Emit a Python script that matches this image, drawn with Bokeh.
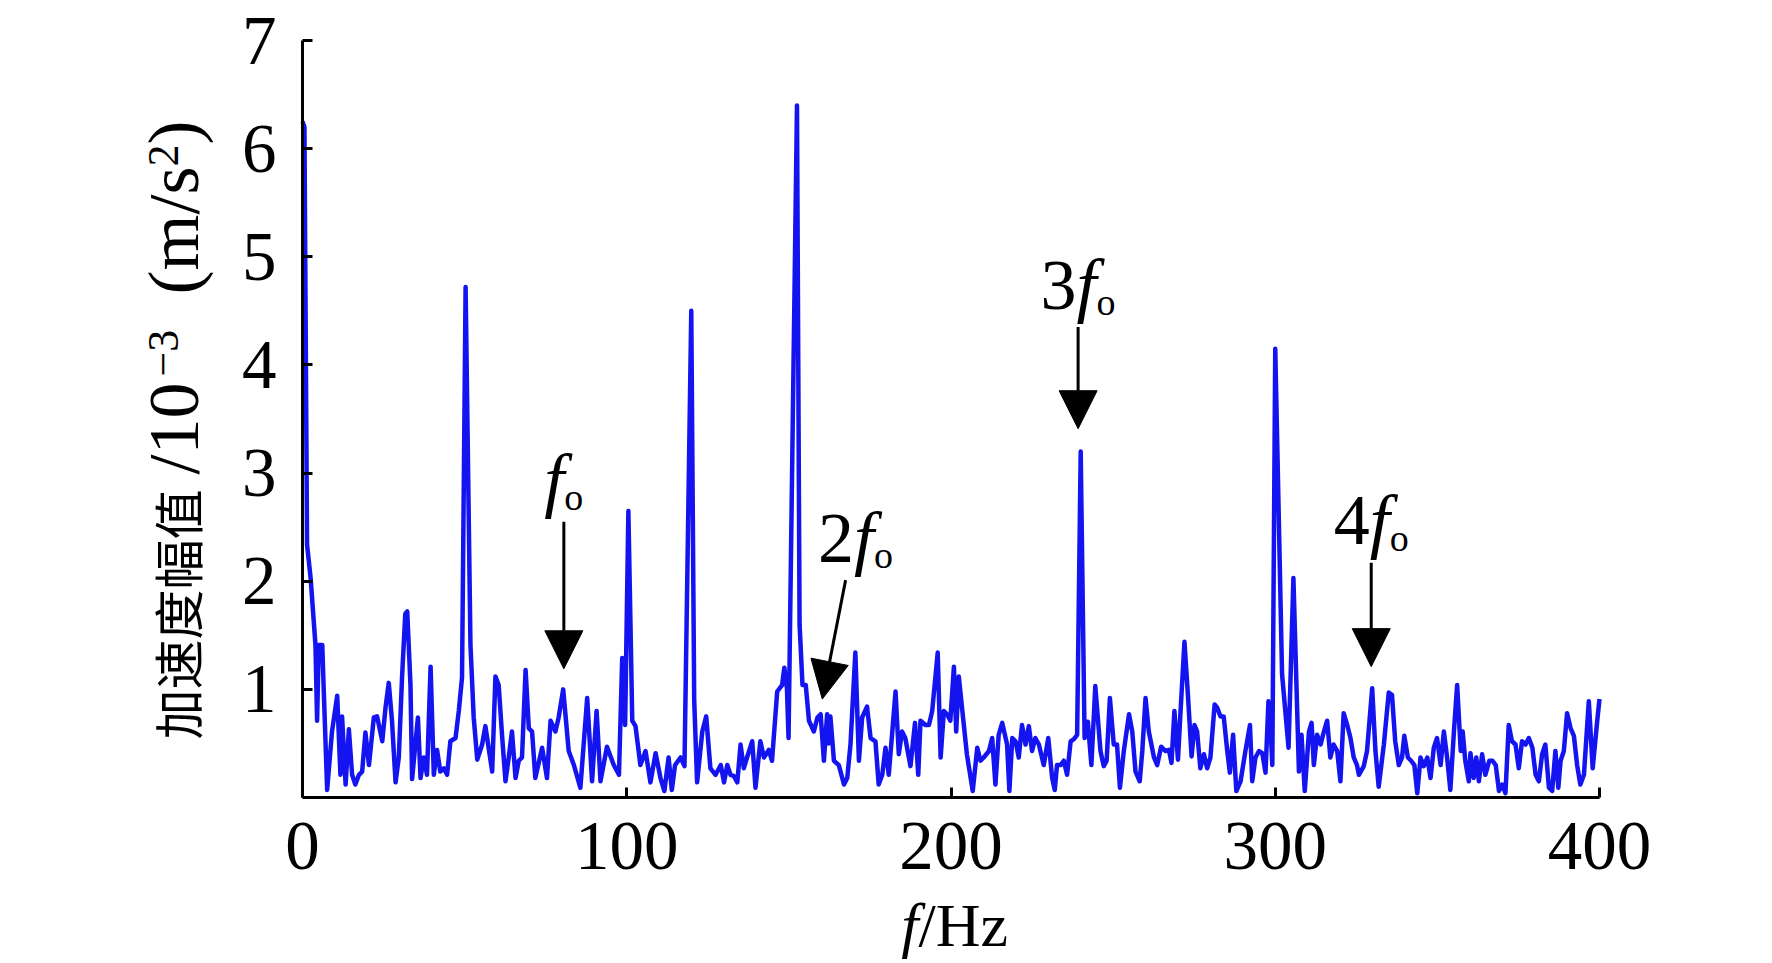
import math
from bokeh.plotting import figure
from bokeh.models import Range1d, FixedTicker, Arrow, NormalHead, Label
from bokeh.embed import file_html
from bokeh.resources import INLINE

# ---- data ----
freq = [0.0, 0.6, 1.4, 2.5, 4.0, 4.5, 5.0, 6.1, 6.6, 7.6, 9.1, 10.7, 11.7, 12.2, 13.3, 14.3, 15.3, 16.3, 17.4, 18.4,
        19.4, 20.5, 22.0, 23.0, 24.6, 25.6, 26.6, 27.6, 28.7, 29.7, 30.7, 31.7, 32.3, 33.3, 33.8, 34.8, 35.6, 36.4, 37.4, 38.4,
        39.5, 40.5, 41.5, 42.5, 43.6, 44.6, 45.6, 47.2, 48.2, 49.2, 50.3, 51.8, 52.8, 53.9, 55.4, 56.4, 58.5, 59.5, 60.5, 61.6,
        62.6, 63.6, 64.6, 65.7, 66.7, 67.7, 68.8, 69.8, 70.8, 71.8, 73.9, 75.4, 76.5, 78.0, 79.0, 80.4, 82.1, 83.7, 85.7, 87.8,
        89.3, 90.7, 91.9, 93.9, 96.0, 97.6, 98.6, 99.5, 100.5, 101.7, 102.7, 104.2, 105.8, 107.3, 108.9, 110.4, 111.6, 112.9, 113.9, 114.9,
        116.6, 117.8, 119.9, 120.8, 121.7, 123.3, 124.5, 125.8, 127.4, 129.0, 130.0, 131.0, 132.0, 133.0, 134.1, 135.1, 136.1, 137.1, 138.7, 139.7,
        141.2, 142.3, 143.8, 144.8, 146.4, 147.9, 148.6, 149.4, 149.9, 152.5, 153.3, 154.2, 155.2, 156.2, 157.7, 158.8, 159.8, 160.8, 161.8, 162.3,
        162.8, 163.9, 165.4, 167.0, 168.0, 169.0, 170.5, 171.6, 172.6, 174.1, 175.2, 176.7, 177.7, 178.8, 179.8, 180.8, 181.9, 182.9, 183.9, 184.9,
        185.9, 187.5, 188.9, 189.9, 190.6, 192.1, 193.2, 194.2, 195.9, 196.8, 197.8, 198.8, 199.8, 200.9, 201.6, 202.4, 203.4, 204.9, 206.7, 208.1,
        209.1, 210.1, 211.7, 212.7, 213.7, 214.7, 215.8, 217.3, 218.0, 218.9, 219.9, 220.9, 221.9, 223.0, 224.0, 225.0, 226.0, 227.1, 228.6, 230.0,
        231.2, 232.0, 232.7, 233.8, 234.8, 235.8, 236.9, 237.9, 238.9, 240.0, 241.2, 242.2, 243.3, 244.5, 246.1, 247.1, 248.0, 249.0, 250.2, 251.2,
        252.1, 253.3, 254.9, 255.9, 256.9, 258.2, 259.0, 260.0, 261.0, 262.6, 263.6, 264.8, 266.1, 267.2, 268.0, 268.9, 270.0, 270.8, 272.0, 273.0,
        274.2, 275.1, 275.9, 276.9, 278.0, 279.0, 280.0, 281.3, 282.1, 283.1, 284.1, 285.2, 286.0, 287.0, 288.0, 289.3, 290.8, 292.2, 292.9, 293.9,
        295.0, 296.0, 297.0, 297.9, 298.6, 299.1, 300.0, 302.1, 304.1, 305.6, 307.3, 308.1, 309.1, 310.4, 311.2, 311.9, 312.9, 314.0, 315.0, 316.0,
        317.0, 318.0, 319.1, 320.1, 321.1, 322.2, 323.2, 324.2, 325.2, 325.8, 327.3, 328.3, 329.9, 330.9, 331.9, 333.5, 335.0, 336.0, 337.0, 338.1,
        339.1, 339.8, 340.9, 341.9, 342.9, 343.8, 344.8, 345.8, 346.9, 347.9, 348.9, 349.9, 351.0, 352.0, 353.0, 354.0, 355.1, 356.1, 357.2, 357.8,
        358.6, 359.7, 360.2, 361.2, 362.0, 362.8, 363.8, 364.8, 366.0, 367.0, 368.0, 369.0, 370.0, 371.0, 372.0, 373.0, 374.1, 375.1, 376.1, 377.2,
        378.2, 379.3, 380.3, 381.3, 382.3, 383.3, 384.4, 385.4, 386.4, 387.3, 388.0, 389.0, 390.0, 391.1, 392.1, 393.1, 394.1, 395.2, 396.7, 397.9,
        399.3, 400.0]
amp = [6.25, 6.2, 2.34, 2.03, 1.41, 0.71, 1.41, 1.41, 0.95, 0.07, 0.61, 0.94, 0.21, 0.75, 0.12, 0.63, 0.21, 0.12, 0.21, 0.24,
       0.60, 0.30, 0.74, 0.75, 0.52, 0.83, 1.06, 0.71, 0.14, 0.37, 1.11, 1.70, 1.72, 1.04, 0.17, 0.49, 0.74, 0.18, 0.37, 0.21,
       1.21, 0.21, 0.44, 0.24, 0.27, 0.21, 0.52, 0.55, 0.80, 1.11, 4.72, 1.41, 0.74, 0.35, 0.49, 0.66, 0.24, 1.12, 1.04, 0.55,
       0.15, 0.37, 0.61, 0.18, 0.34, 0.37, 1.18, 0.64, 0.61, 0.18, 0.46, 0.18, 0.71, 0.61, 0.74, 1.00, 0.43, 0.30, 0.09, 0.92,
       0.15, 0.80, 0.15, 0.47, 0.30, 0.21, 1.29, 0.67, 2.65, 0.71, 0.66, 0.30, 0.43, 0.14, 0.41, 0.18, 0.06, 0.37, 0.07, 0.30,
       0.37, 0.29, 4.50, 0.90, 0.14, 0.61, 0.75, 0.27, 0.21, 0.30, 0.14, 0.30, 0.21, 0.20, 0.14, 0.49, 0.27, 0.37, 0.52, 0.09,
       0.52, 0.37, 0.44, 0.34, 0.98, 1.04, 1.20, 1.01, 0.55, 6.40, 1.60, 1.04, 1.04, 0.71, 0.61, 0.74, 0.77, 0.34, 0.77, 0.50,
       0.75, 0.34, 0.30, 0.12, 0.18, 0.49, 1.34, 0.34, 0.74, 0.84, 0.55, 0.52, 0.12, 0.21, 0.46, 0.21, 0.61, 0.98, 0.40, 0.61,
       0.55, 0.29, 0.69, 0.21, 0.71, 0.67, 0.67, 0.80, 1.34, 0.37, 0.80, 0.77, 0.71, 1.21, 0.61, 1.12, 0.83, 0.40, 0.06, 0.46,
       0.34, 0.37, 0.43, 0.55, 0.12, 0.58, 0.69, 0.49, 0.06, 0.55, 0.52, 0.37, 0.67, 0.49, 0.66, 0.43, 0.55, 0.49, 0.30, 0.55,
       0.18, 0.07, 0.30, 0.30, 0.34, 0.21, 0.52, 0.54, 0.58, 3.20, 0.55, 0.70, 0.30, 1.03, 0.43, 0.29, 0.34, 0.92, 0.49, 0.49,
       0.09, 0.43, 0.77, 0.61, 0.24, 0.15, 0.43, 0.92, 0.61, 0.37, 0.30, 0.47, 0.43, 0.44, 0.32, 0.80, 0.35, 0.80, 1.44, 0.98,
       0.38, 0.67, 0.61, 0.27, 0.40, 0.27, 0.37, 0.86, 0.83, 0.75, 0.75, 0.43, 0.23, 0.58, 0.06, 0.15, 0.43, 0.67, 0.15, 0.37,
       0.43, 0.41, 0.23, 0.89, 0.61, 0.30, 4.15, 1.14, 0.46, 2.03, 0.24, 0.58, 0.06, 0.61, 0.69, 0.30, 0.58, 0.49, 0.61, 0.71,
       0.37, 0.49, 0.43, 0.15, 0.78, 0.67, 0.55, 0.37, 0.30, 0.21, 0.29, 0.43, 1.01, 0.43, 0.10, 0.49, 0.97, 0.95, 0.52, 0.30,
       0.37, 0.57, 0.37, 0.34, 0.30, 0.04, 0.37, 0.29, 0.37, 0.18, 0.46, 0.55, 0.30, 0.61, 0.37, 0.07, 0.61, 1.04, 0.43, 0.61,
       0.34, 0.15, 0.41, 0.18, 0.37, 0.15, 0.40, 0.21, 0.34, 0.34, 0.30, 0.06, 0.12, 0.04, 0.67, 0.52, 0.49, 0.27, 0.52, 0.49,
       0.55, 0.46, 0.21, 0.15, 0.40, 0.49, 0.09, 0.06, 0.43, 0.09, 0.34, 0.43, 0.78, 0.64, 0.57, 0.30, 0.12, 0.21, 0.89, 0.27,
       0.71, 0.91]

x_ticks = [0, 100, 200, 300, 400]
y_ticks = [1, 2, 3, 4, 5, 6, 7]
x_bounds = (0, 400)
y_bounds = (0, 7)

# annotation arrows: tip and tail (data units) and label prefixes
ann_prefix = ["", "2", "3", "4"]
ann_tip_x = [80.6, 160.3, 239.2, 329.6]
ann_tip_y = [1.19, 0.91, 3.41, 1.21]
ann_tail_x = [80.6, 167.5, 239.2, 329.6]
ann_tail_y = [2.55, 2.01, 4.35, 2.17]
ann_label_dx = [0, 10, 0, 0]

# y-axis title pieces: text, font, size(px), start position along the axis (px above x-axis), offset left of axis (px)
ylab_text = ["加速度幅值", "/10", "−3", "(m/s", "2", ")"]
ylab_font = ["'Noto Sans CJK SC'", "'Liberation Serif'", "'Liberation Serif'", "'Liberation Serif'",
             "'Liberation Serif'", "'Liberation Serif'"]
ylab_size = [50, 72, 44, 72, 44, 72]
ylab_start = [58, 323, 421, 503, 631, 653]
ylab_dx = [-127, -129, -139, -129, -139, -129]

SERIF = "'Liberation Serif', 'Times New Roman', serif"

# canvas geometry (px): the plotting frame fills the canvas; axes sit at fixed data positions
W, H = 1765, 960
AX_X, AX_Y = 302, 797          # pixel position of the data origin
PX_PER_X = 1297 / 400          # px per Hz
PX_PER_Y = 757 / 7             # px per unit

x_range = Range1d(-AX_X / PX_PER_X, (W - AX_X) / PX_PER_X)
y_range = Range1d(-(H - AX_Y) / PX_PER_Y, AX_Y / PX_PER_Y)

p = figure(width=W, height=H, output_backend="svg", toolbar_location=None,
           x_range=x_range, y_range=y_range, min_border=0)
p.outline_line_color = None
p.grid.visible = False
p.background_fill_color = "white"
p.border_fill_color = "white"

p.line(freq, amp, line_color="#1414f0", line_width=4.5, line_join="round")

for ax in (p.xaxis[0], p.yaxis[0]):
    ax.fixed_location = 0
    ax.axis_line_width = 3
    ax.axis_line_color = "black"
    ax.major_tick_in = 10
    ax.major_tick_out = 0
    ax.major_tick_line_width = 3
    ax.minor_tick_line_color = None
    ax.major_label_text_font = SERIF
    ax.major_label_text_font_size = "69px"
    ax.major_label_text_color = "black"

p.xaxis[0].ticker = FixedTicker(ticks=x_ticks)
p.yaxis[0].ticker = FixedTicker(ticks=y_ticks)
p.xaxis[0].bounds = x_bounds
p.yaxis[0].bounds = y_bounds
p.xaxis[0].major_label_standoff = 25
p.yaxis[0].major_label_standoff = 26

# y-axis title, built from pieces so the Chinese and Latin parts keep their own sizes
for txt, fnt, sz, st, dx in zip(ylab_text, ylab_font, ylab_size, ylab_start, ylab_dx):
    p.add_layout(Label(x=0, y=0, x_offset=dx, y_offset=st, text=txt, text_font=fnt,
                       text_font_size=f"{sz}px", angle=math.pi / 2, text_align="left",
                       text_baseline="middle", text_color="black"))

# x-axis title: italic f + /Hz
p.add_layout(Label(x=190, y=0, x_offset=0, y_offset=-127, text="f", text_font=SERIF,
                   text_font_style="italic", text_font_size="62px", text_align="right",
                   text_baseline="middle", text_color="black"))
p.add_layout(Label(x=190, y=0, x_offset=0, y_offset=-127, text="/Hz", text_font=SERIF,
                   text_font_size="62px", text_align="left",
                   text_baseline="middle", text_color="black"))

MAIN = 72
SUB = 38
f_adv = 20
pre_w = 36
o_w = 19
for pre, tx, ty, sx, sy, dx in zip(ann_prefix, ann_tip_x, ann_tip_y, ann_tail_x, ann_tail_y, ann_label_dx):
    p.add_layout(Arrow(end=NormalHead(size=38, fill_color="black", line_color="black", line_width=1),
                       x_start=sx, y_start=sy, x_end=tx, y_end=ty,
                       line_color="black", line_width=3))
    total = (pre_w if pre else 0) + f_adv + o_w
    start = dx - total / 2
    if pre:
        p.add_layout(Label(x=sx, y=sy, x_offset=start, y_offset=42, text=pre, text_font=SERIF,
                           text_font_size=f"{MAIN}px", text_align="left", text_baseline="middle",
                           text_color="black"))
        start += pre_w
    p.add_layout(Label(x=sx, y=sy, x_offset=start, y_offset=42, text="f", text_font=SERIF,
                       text_font_style="italic", text_font_size=f"{MAIN}px", text_align="left",
                       text_baseline="middle", text_color="black"))
    start += f_adv
    p.add_layout(Label(x=sx, y=sy, x_offset=start, y_offset=25, text="o", text_font=SERIF,
                       text_font_size=f"{SUB}px", text_align="left", text_baseline="middle",
                       text_color="black"))

open("out.html", "w").write(file_html(p, INLINE))
